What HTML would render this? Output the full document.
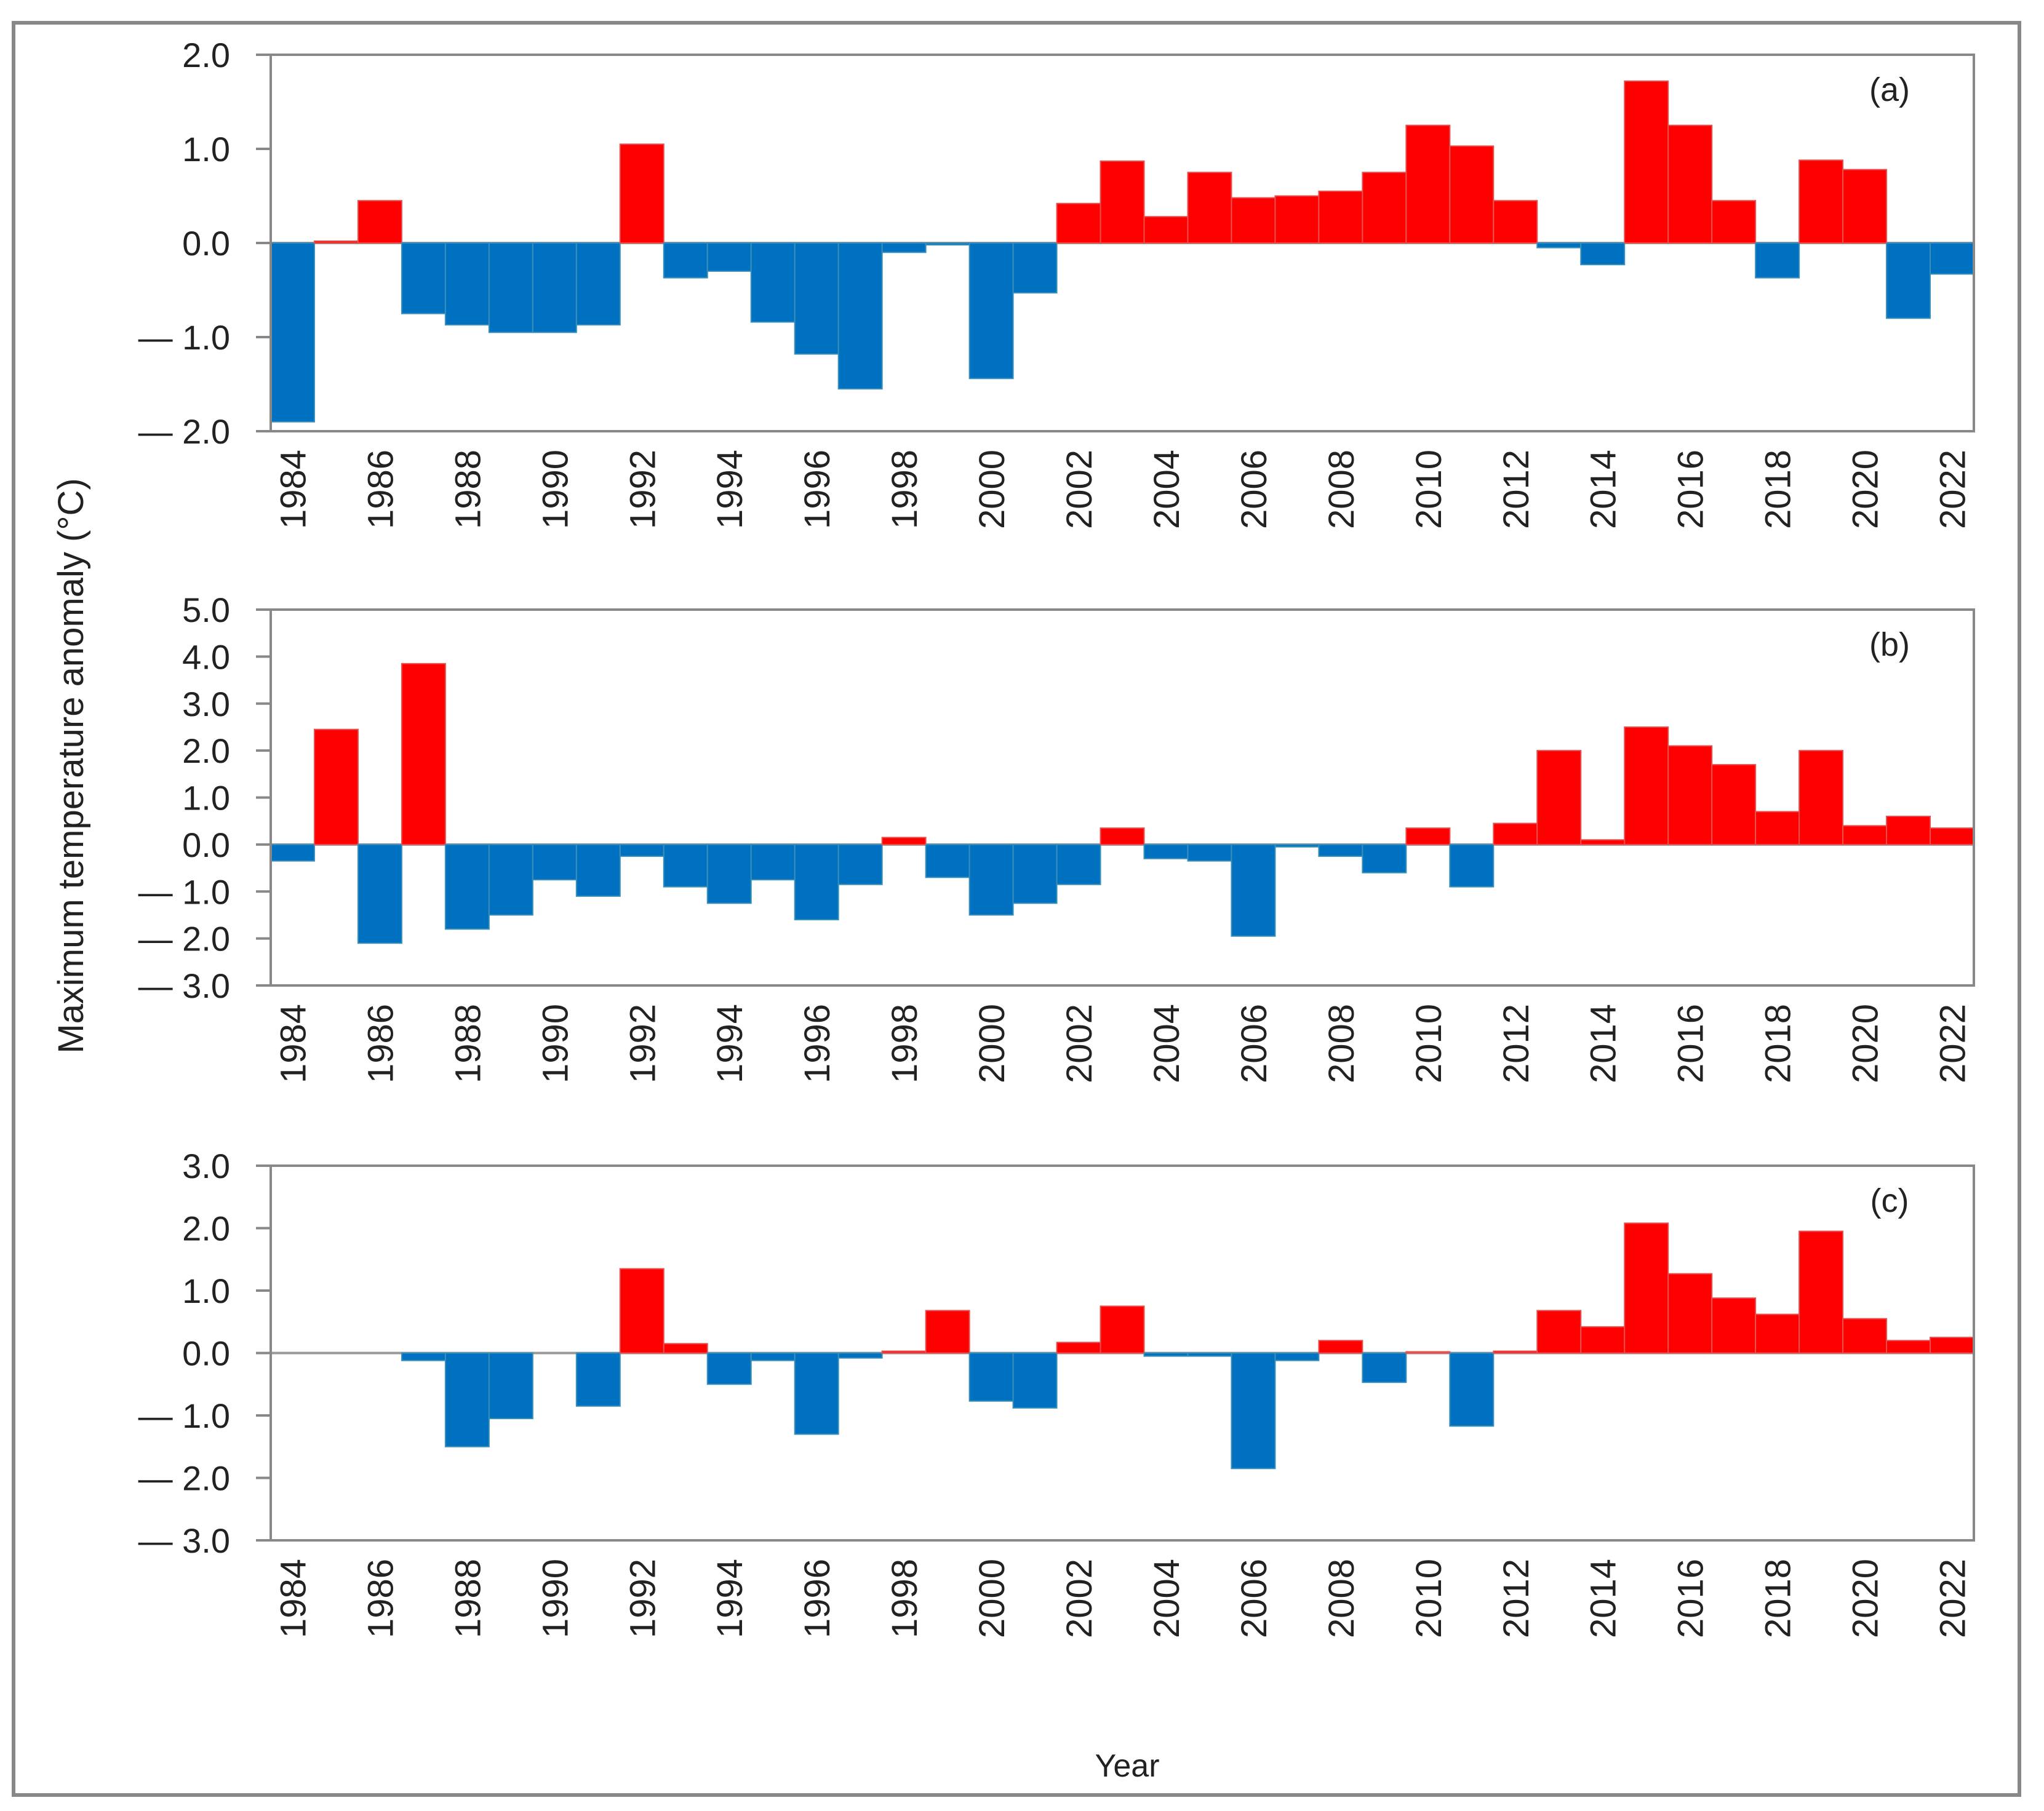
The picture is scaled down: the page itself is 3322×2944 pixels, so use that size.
<!DOCTYPE html>
<html><head><meta charset="utf-8"><style>
html,body{margin:0;padding:0;background:#fff;}
svg{display:block;font-family:"Liberation Sans",sans-serif;}
</style></head><body>
<svg id="chart" width="3322" height="2944" viewBox="0 0 3322 2944" xmlns="http://www.w3.org/2000/svg">
<rect x="22" y="37" width="3260" height="2881" fill="#fff" stroke="#888" stroke-width="6"/>
<text x="135" y="1245" font-size="58" fill="#222" text-anchor="middle" transform="rotate(-90 135 1245)">Maximum  temperature anomaly (°C)</text>
<text x="1832" y="2888" font-size="52" fill="#222" text-anchor="middle">Year</text>
</svg>
<script>
const years = [];
for (let y = 1984; y <= 2022; y++) years.push(y);
const seriesA = [-1.9,0.02,0.45,-0.75,-0.87,-0.95,-0.95,-0.87,1.05,-0.37,-0.3,-0.84,-1.18,-1.55,-0.1,-0.02,-1.44,-0.53,0.42,0.87,0.28,0.75,0.48,0.5,0.55,0.75,1.25,1.03,0.45,-0.05,-0.23,1.72,1.25,0.45,-0.37,0.88,0.78,-0.8,-0.33];
const seriesB = [-0.35,2.45,-2.1,3.85,-1.8,-1.5,-0.75,-1.1,-0.25,-0.9,-1.25,-0.75,-1.6,-0.85,0.15,-0.7,-1.5,-1.25,-0.85,0.35,-0.3,-0.35,-1.95,-0.05,-0.25,-0.6,0.35,-0.9,0.45,2.0,0.1,2.5,2.1,1.7,0.7,2.0,0.4,0.6,0.35];
const seriesC = [0,0,0,-0.12,-1.5,-1.05,0,-0.85,1.35,0.15,-0.5,-0.12,-1.3,-0.08,0.03,0.68,-0.77,-0.88,0.17,0.75,-0.05,-0.05,-1.85,-0.12,0.2,-0.47,0.02,-1.17,0.03,0.68,0.42,2.08,1.27,0.88,0.62,1.95,0.55,0.2,0.25];
const ticksA = [2,1,0,-1,-2];
const ticksB = [5,4,3,2,1,0,-1,-2,-3];
const ticksC = [3,2,1,0,-1,-2,-3];
const panelLabels = ["(a)","(b)","(c)"];

const NS = "http://www.w3.org/2000/svg";
const svg = document.getElementById("chart");
const X0 = 440, X1 = 3208;
const bw = (X1 - X0) / years.length;
function mk(tag, attrs, parent) {
  const e = document.createElementNS(NS, tag);
  for (const k in attrs) e.setAttribute(k, attrs[k]);
  (parent || svg).appendChild(e);
  return e;
}
function fmt(v){ return v < 0 ? "\u2014 " + Math.abs(v).toFixed(1) : v.toFixed(1); }

const panels = [
  {data: seriesA, ticks: ticksA, top: 89, bottom: 701, label: panelLabels[0], name: "a"},
  {data: seriesB, ticks: ticksB, top: 991, bottom: 1602, label: panelLabels[1], name: "b"},
  {data: seriesC, ticks: ticksC, top: 1895, bottom: 2504, label: panelLabels[2], name: "c"}
];

panels.forEach(p => {
  const g = mk("g", {});
  
  
  const vmax = p.ticks[0], vmin = p.ticks[p.ticks.length - 1];
  const yS = v => p.top + (vmax - v) / (vmax - vmin) * (p.bottom - p.top);
  const xS = i => X0 + i * bw;
  const y0 = yS(0);
  const zl = mk("line", {x1: X0, x2: X1, y1: y0, y2: y0, stroke: "#999", "stroke-width": 4}, g);
  
  
  p.data.forEach((v, i) => {
    if (v === 0) return;
    const pos = v > 0;
    const r = mk("rect", {
      x: xS(i), width: bw,
      y: Math.min(yS(v), y0), height: Math.abs(yS(v) - y0),
      fill: pos ? "#ff0000" : "#0070c0",
      stroke: pos ? "#e85050" : "#3a90b8", "stroke-width": 2
    }, g);
    
    
  });
  const b = mk("rect", {x: X0, y: p.top, width: X1 - X0, height: p.bottom - p.top, fill: "none", stroke: "#888", "stroke-width": 4}, g);
  
  
  p.ticks.forEach(t => {
    const y = yS(t);
    const tl = mk("line", {x1: 416, x2: X0, y1: y, y2: y, stroke: "#888", "stroke-width": 4}, g);
    
    
    const tx = mk("text", {x: 374, y: y + 20, "font-size": 56, fill: "#222", "text-anchor": "end"}, g);
    tx.textContent = fmt(t);
    
    
  });
  years.forEach((yr, i) => {
    if (yr % 2) return;
    const cx = xS(i) + bw / 2 + 21;
    const ly = p.bottom + 30;
    const tx = mk("text", {x: cx, y: ly, "font-size": 58, fill: "#222", "text-anchor": "end", transform: `rotate(-90 ${cx} ${ly})`}, g);
    tx.textContent = String(yr);
    
    
  });
  const pl = mk("text", {x: 3071, y: p.top + 75, "font-size": 54, fill: "#222", "text-anchor": "middle"}, g);
  pl.textContent = p.label;
  
  
});
</script>
</body></html>
